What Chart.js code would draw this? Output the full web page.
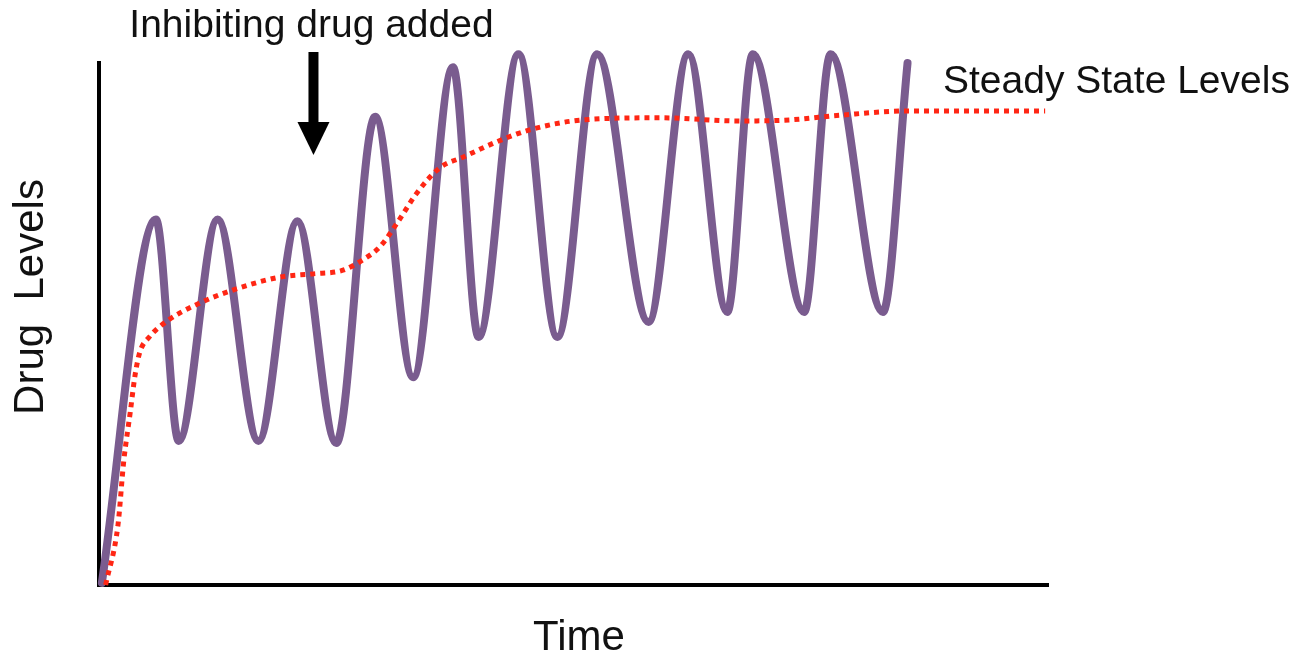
<!DOCTYPE html>
<html>
<head>
<meta charset="utf-8">
<script src="https://cdn.jsdelivr.net/npm/chart.js@4.4.1/dist/chart.umd.min.js"></script>
<style>
  html, body { margin: 0; padding: 0; background: #ffffff; }
  #wrap { width: 1307px; height: 660px; position: relative; }
</style>
</head>
<body>
<div id="wrap"><canvas id="c" width="1307" height="660"></canvas></div>
<script>
// Oscillating drug level (peaks and troughs)
const drugTime   = [0.3, 6.0, 8.4, 12.5, 16.8, 20.9, 25.0, 29.1, 33.1, 37.3, 40.0, 44.2, 48.3, 52.5, 57.9, 62.1, 66.2, 68.9, 74.3, 77.1, 82.6, 85.2];
const drugLevel  = [0.4, 70.0, 27.6, 70.0, 27.6, 69.7, 27.2, 89.7, 39.8, 99.2, 47.5, 101.7, 47.5, 101.7, 50.4, 101.7, 52.3, 101.7, 52.3, 101.7, 52.3, 100.0];

// Steady state levels (red dotted curve)
const steadyTime  = [0.7, 2.0, 2.6, 3.3, 3.8, 4.3, 5.3, 7.2, 10.6, 14.1, 19.1, 22.5, 25.7, 27.8, 29.6, 31.4, 33.5, 35.9, 38.4, 41.9, 45.4, 51.0, 59.1, 67.5, 72.8, 78.1, 85.1, 99.7];
const steadyLevel = [0.0, 11.5, 23.6, 33.2, 40.2, 44.6, 47.5, 50.6, 54.0, 56.5, 59.0, 59.6, 60.3, 62.3, 64.8, 69.3, 75.1, 79.9, 82.0, 84.9, 87.2, 89.1, 89.5, 88.9, 89.1, 90.0, 90.8, 90.8];

const drugAddedTime = 22.6;

const yTitle = 'Drug  Levels';
const xTitle = 'Time';
const arrowLabel = 'Inhibiting drug added';
const steadyLabel = 'Steady State Levels';

const drugPoints = drugTime.map((t, i) => ({ x: t, y: drugLevel[i] }));
const steadyPoints = steadyTime.map((t, i) => ({ x: t, y: steadyLevel[i] }));

const FONT = '"Liberation Sans", Arial, Helvetica, sans-serif';

const annotate = {
  id: 'annotate',
  afterDraw(chart) {
    const ctx = chart.ctx;
    const area = chart.chartArea;
    const xs = chart.scales.x;
    ctx.save();
    ctx.fillStyle = '#111111';

    // y title
    ctx.save();
    ctx.font = '42px ' + FONT;
    ctx.translate(43, (area.top + area.bottom) / 2 - 27);
    ctx.rotate(-Math.PI / 2);
    ctx.textAlign = 'center';
    ctx.textBaseline = 'alphabetic';
    ctx.fillText(yTitle, 0, 0);
    ctx.restore();

    // x title
    ctx.font = '42px ' + FONT;
    ctx.textAlign = 'center';
    ctx.textBaseline = 'alphabetic';
    ctx.fillText(xTitle, 579, 650);

    // arrow annotation
    const ax = xs.getPixelForValue(drugAddedTime);
    ctx.font = '39px ' + FONT;
    ctx.textAlign = 'center';
    ctx.fillText(arrowLabel, ax - 2, 37);
    ctx.fillStyle = '#000000';
    ctx.fillRect(ax - 5, 52, 10, 74);
    ctx.beginPath();
    ctx.moveTo(ax - 16, 122);
    ctx.lineTo(ax + 16, 122);
    ctx.lineTo(ax, 155);
    ctx.closePath();
    ctx.fill();

    // steady state label
    ctx.fillStyle = '#111111';
    ctx.font = '39px ' + FONT;
    ctx.textAlign = 'left';
    ctx.fillText(steadyLabel, 943, 93);
    ctx.restore();
  }
};

new Chart(document.getElementById('c'), {
  type: 'line',
  data: {
    datasets: [
      {
        label: 'Steady State Levels',
        data: steadyPoints,
        borderColor: 'rgb(255,38,20)',
        borderWidth: 5,
        borderDash: [5, 5],
        borderCapStyle: 'butt',
        cubicInterpolationMode: 'monotone',
        pointRadius: 0,
        fill: false,
        clip: false,
        order: 1
      },
      {
        label: 'Drug Levels',
        data: drugPoints,
        borderColor: '#7a5c8f',
        borderWidth: 8,
        borderCapStyle: 'round',
        borderJoinStyle: 'round',
        cubicInterpolationMode: 'monotone',
        pointRadius: 0,
        fill: false,
        clip: false,
        order: 2
      }
    ]
  },
  options: {
    responsive: false,
    animation: false,
    devicePixelRatio: 1,
    layout: { padding: { left: 99, right: 259, top: 63, bottom: 75 } },
    plugins: { legend: { display: false }, tooltip: { enabled: false } },
    scales: {
      x: {
        type: 'linear', min: 0, max: 100,
        ticks: { display: false },
        grid: { display: false },
        border: { display: true, color: '#000000', width: 4 },
        afterFit(s) { s.height = 0; }
      },
      y: {
        type: 'linear', min: 0, max: 100,
        ticks: { display: false },
        grid: { display: false },
        border: { display: true, color: '#000000', width: 4 },
        afterFit(s) { s.width = 0; }
      }
    }
  },
  plugins: [annotate]
});
</script>
</body>
</html>
